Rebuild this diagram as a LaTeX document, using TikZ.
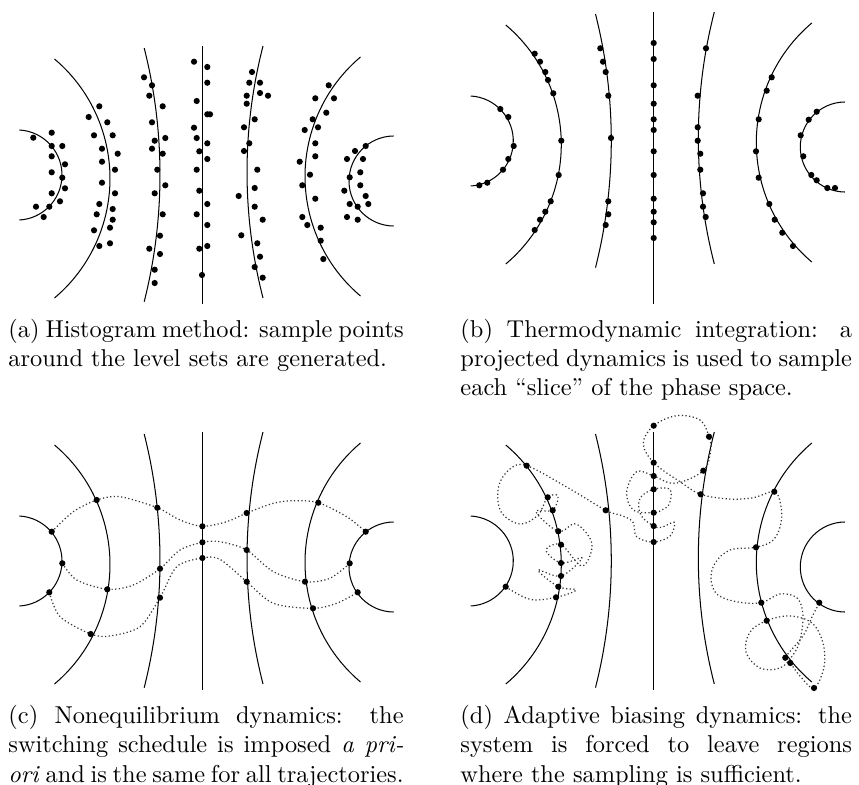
\documentclass[tikz,border=0pt]{standalone}
\usetikzlibrary{calc}

% one level set: circular arc given by its apex and its two ends
% #1 = 1 (bulges right) or -1 (bulges left), #2 apex x, #3 ends x, #4 top y, #5 bottom y
\newcommand\lvlarc[5]{%
  \pgfmathsetmacro\lvlh{(#5-#4)/2}%
  \pgfmathsetmacro\lvly{(#5+#4)/2}%
  \pgfmathsetmacro\lvls{(#1)*(#2-#3)}%
  \pgfmathsetmacro\lvlr{(\lvlh*(\lvlh/\lvls)+\lvls)/2}%
  \pgfmathsetmacro\lvlx{#2-(#1)*\lvlr}%
  \pgfmathsetmacro\lvla{asin(\lvlh/\lvlr)}%
  \pgfmathsetmacro\lvlsa{90-(#1)*(90+\lvla)}%
  \pgfmathsetmacro\lvlea{90-(#1)*(90-\lvla)}%
  \draw[lvlline] (\lvlx,\lvly) ++(\lvlsa:\lvlr)
    arc[start angle=\lvlsa, end angle=\lvlea, radius=\lvlr];%
}

\begin{document}
\begin{tikzpicture}[
  x=0.41pt, y=-0.41pt,
  lvlline/.style={line width=0.42pt},
  traj/.style={densely dotted, line width=0.5pt, black!80},
  caption/.style={anchor=north west, inner sep=0pt, text width=162pt, align=justify},
  pics/levelsets/.style={code={
    \lvlarc{1}{62}{19.5}{130}{220}
    \lvlarc{1}{110}{54.5}{59}{298}
    \lvlarc{1}{160}{144.2}{48}{301.7}
    \draw[lvlline] (202.4,46) -- (202.4,#1);
    \lvlarc{-1}{247}{263}{46}{298}
    \lvlarc{-1}{305}{360.5}{57}{296}
    \lvlarc{-1}{349}{393}{136}{226}
  }},
]
\useasboundingbox (0,0) rectangle (859,785);

% ---- level sets of the four panels ----
\pic at (0,0)       {levelsets=304};
\pic at (451.3,-34) {levelsets=338};
\pic at (0,386)     {levelsets=304};
\pic at (451.3,386) {levelsets=304};

% ---- (a) histogram: samples scattered around the level sets ----
\foreach \x/\y in {33.3/137.7, 51.7/132.7, 51.7/146, 62.3/146, 51.7/156.3, 65/164.3,
    51.7/172.3, 62.3/177.7, 65/188.3, 51.7/193.3, 60/201.3, 36/206.7, 49.3/206.7, 43.7/217,
    99.3/106.3, 88.7/117, 107.3/122.3, 94/135.3, 112.7/135.3, 102/148.7, 117.7/153.7,
    102/161.7, 115/169.7, 102/182.7, 115/193.3, 99.3/204, 112.7/209, 96.7/214.3,
    112.7/219.7, 110/227.7, 94/230.3, 110/243.3, 99.3/246,
    144/77.3, 152/85.3, 149.3/95.7, 162.7/106.3, 152/122.3, 154.7/140.7, 165.3/138,
    152/148.7, 162.7/153.7, 157.3/169.7, 165.3/185.3, 154.7/193.3, 162.7/214.3, 160/235.7,
    149.3/248.7, 160/254, 154.7/269.7, 154.7/283,
    194/61.7, 207.3/67, 207.3/82.7, 196.7/101, 207.3/114.3, 210/114.3, 194/127.7,
    196.7/138, 207.3/143.3, 199.3/151.3, 207.3/159, 196.7/169.7, 199.3/190.7, 207.3/204,
    196.7/214.3, 207.3/225, 199.3/248.7, 207.3/246, 202/275,
    252/72, 249.3/82.7, 260/82.7, 246.7/95.7, 260/93, 268/95.7, 246.7/103.7, 254.7/119.3,
    244/127.3, 249.3/143.3, 244/151, 257.3/169.7, 254.7/188, 238.7/196, 254.7/206.7,
    262.7/219.7, 241.3/235.3, 257.3/243.3, 260/256.7, 254.7/267, 262.7/277.7,
    328.7/85.3, 315.3/98.3, 334/98.3, 326.3/112.7, 312.7/119.3, 318/127.3, 304.7/130,
    315.3/143.3, 315.3/156.3, 299.7/161.7, 310/174.7, 302.3/185.3, 315.3/198.7, 302.3/217,
    307.3/225, 320.7/227.7, 320.7/240.7, 323.3/259,
    365.7/146, 355/151, 347/159, 363/159, 349.7/177.3, 360.3/172.3, 360.3/185.3,
    344.3/190.7, 365.7/196, 349.7/204, 357.7/206.7, 368.3/204, 347/217, 357.7/219.7}
  \fill (\x,\y) circle[radius=3.1];

% ---- (b) thermodynamic integration: samples on the level sets ----
\foreach \x/\y in {500.3/109, 508.3/117, 513.7/146, 508.3/159, 503/169.7, 487.3/182.7,
    479.3/185.3,
    534.7/53.7, 540/61.7, 545.3/72, 548/80, 553.3/93.3, 561.3/140.7, 558.7/175,
    550.7/201.3, 545.3/211.7, 540/219.7, 534.7/230,
    600.3/48.3, 603/61.7, 605.7/72, 608.3/95.7, 611/138, 608.3/201.3, 608.3/214.3, 605.7/225,
    653.7/43, 653.7/59, 653.7/85.3, 653.7/103.7, 653.7/119.3, 653.7/130, 653.7/151.3,
    653.7/175, 653.7/198.7, 653.7/211.7, 653.7/222.3, 653.7/238,
    706/48.3, 697.7/95.7, 697.7/127.3, 697.7/140.7, 700.3/153.7, 700.3/169.7, 703/193.3,
    703/206.7, 705.7/217,
    771.7/77.3, 766.7/90.7, 758.7/119.3, 756/151.3, 758.7/177.7, 769.3/204, 774.7/219.7,
    782.3/232.7, 793/246,
    816.7/111.7, 808.7/119.7, 800.7/135.3, 803.3/156.3, 811.3/175, 816.7/180.3, 827.3/188,
    835/188}
  \fill (\x,\y) circle[radius=3.1];

% ---- (c) nonequilibrium: three switched trajectories ----
\draw[traj] plot[smooth] coordinates {(51.7,531.7) (73.3,511.7) (96.7,500) (120,496.7)
  (157.3,507.7) (180,520) (202.4,526.3) (226.7,521.7) (246.7,513) (273.3,503.3)
  (293.3,500.7) (318.3,502.7) (346.7,516.7) (365.7,531.7)};
\draw[traj] plot[smooth] coordinates {(62.3,563.3) (76.7,580) (107.3,589.3) (133.3,585)
  (160,568.7) (180,550) (202.4,542.3) (220,541.7) (246.7,550) (273.3,571.7) (305,581.7)
  (330,578.3) (349.7,563.3)};
\draw[traj] plot[smooth] coordinates {(49.3,592.3) (60,616.7) (90.7,634) (110,636)
  (140,626.7) (160,597.7) (176.7,566.7) (202.4,558) (220,559.3) (246.7,581.7)
  (273.3,603.3) (313,608.3) (336.7,603.3) (357.7,592.3)};
\foreach \x/\y in {51.7/531.7, 96.7/500, 157.3/507.7, 202.4/526.3, 246.7/513, 318.3/502.7,
    365.7/531.7, 62.3/563.3, 107.3/589.3, 160/568.7, 202.4/542.3, 246.7/550, 305/581.7,
    349.7/563.3, 49.3/592.3, 90.7/634, 160/597.7, 202.4/558, 246.7/581.7, 313/608.3,
    357.7/592.3}
  \fill (\x,\y) circle[radius=3.1];

% ---- (d) adaptive biasing: one looping trajectory ----
\draw[traj] plot[smooth, tension=0.6] coordinates {(505.7,586.7) (530,599.3) (556,597.3)
  (576,590) (558.3,586.7) (538,570) (561,576) (582,558) (561,563) (546,550)
  (561,544.7) (582,566) (592,544) (576,524) (558.3,531.3) (536,511.7) (552.7,510.3)
  (558,496) (547.7,497.3) (538,515) (520,524) (501,511.7) (498.5,486.7) (510,469)
  (526.7,465.7) (566.7,487) (605.7,510.3) (620,515) (632.7,521.7) (636.7,536.7)
  (653.7,542) (670,536) (674.3,522.3) (661.7,527.3) (653.7,526) (640.7,515) (640,498.3)
  (653.7,489.3) (670,489.3) (669.3,504) (661.7,510) (653.7,512.7) (633.3,510)
  (626.7,491.7) (636.7,471.7) (653.7,476) (675,483.3) (703.3,470.7) (710.7,450)
  (709,436.7) (700,420) (676.7,415.7) (653.7,425.7) (643.3,443.3) (653.7,462.7)
  (680,481.7) (700.7,494.3) (730,499) (753.3,497.7) (774.3,491.7) (780.7,505) (781,523)
  (773.3,540) (756,547.3) (730,550) (715,563.3) (711,580) (718,595) (738,602)
  (761.3,602.7) (780,594) (797,598) (803,615) (800,640) (793,655) (780,668) (760,668)
  (746,652) (750,632) (766.7,620.7) (790,616) (812,623) (823,643) (824,667) (814,688)
  (800,676) (790.3,663) (785.3,657.7) (803,636) (812,617) (819.3,602.7)};
\foreach \x/\y in {505.7/586.7, 526.7/465.7, 547.7/497.3, 552.7/510.3, 558.3/531.3,
    561/544.7, 561/563, 561/576, 558.3/586.7, 556/597.3, 605.7/510.3,
    653.7/425.7, 653.7/462.7, 653.7/476, 653.7/489.3, 653.7/512.7, 653.7/526, 653.7/542,
    709/436.7, 703.3/470.7, 700.7/494.3,
    774.3/491.7, 756/547.3, 761.3/602.7, 766.7/620.7, 785.3/657.7, 790.3/663,
    819.3/602.7, 814/688}
  \fill (\x,\y) circle[radius=3.1];

% ---- captions ----
\node[caption] (capa) at (8,318.5) {(a) Histogram method: sample points around the
  level sets are generated.};
\node[caption, text width=160.5pt] (capb) at (460,318.5) {(b) Thermodynamic
  integration: a projected dynamics is used to sample each “slice” of the phase space.};
\node[caption] (capc) at (8,704.7) {(c) Nonequilibrium dynamics: the switching
  schedule is imposed \emph{a pri-}\linebreak\emph{ori} and is the same for all
  trajectories.};
\node[caption, text width=160.5pt] (capd) at (460,704.7) {(d) Adaptive biasing
  dynamics: the system is forced to leave regions where the sampling is sufficient.};
\end{tikzpicture}
\end{document}
